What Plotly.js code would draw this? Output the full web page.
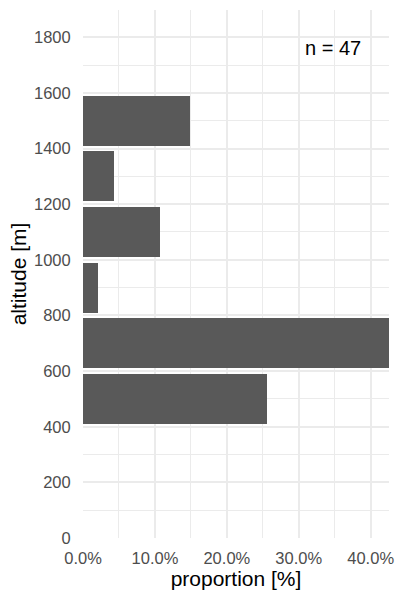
<!DOCTYPE html>
<html>
<head>
<meta charset="utf-8">
<script src="https://cdn.plot.ly/plotly-3.0.1.min.js"></script>
<style>html,body{margin:0;padding:0;background:#fff;}#chart{width:400px;height:600px;}</style>
</head>
<body>
<div id="chart"></div>
<script>
// altitude bin centres [m]
var altitudeBins = [500, 700, 900, 1100, 1300, 1500];
// proportion of observations per bin (n = 47)
var proportions = [0.2553, 0.4255, 0.0213, 0.1064, 0.0426, 0.1489];
var xTickVals = [0, 0.1, 0.2, 0.3, 0.4];
var xTickText = ["0.0%", "10.0%", "20.0%", "30.0%", "40.0%"];
var yTickVals = [0, 200, 400, 600, 800, 1000, 1200, 1400, 1600, 1800];
var annotationText = "n = 47";

var trace = {
  type: 'bar',
  orientation: 'h',
  x: proportions,
  y: altitudeBins,
  width: 180,
  marker: {color: '#595959', line: {width: 0}},
  hoverinfo: 'none'
};

var gridCol = '#EBEBEB';
var layout = {
  width: 400, height: 600,
  margin: {l: 83, r: 11, t: 10, b: 62},
  paper_bgcolor: '#fff', plot_bgcolor: '#fff',
  font: {family: '"Liberation Sans", Arial, sans-serif', color: '#4D4D4D', size: 16.5},
  showlegend: false,
  bargap: 0,
  xaxis: {
    range: [0, 0.4255],
    tickvals: xTickVals, ticktext: xTickText,
    showgrid: true, gridcolor: gridCol, gridwidth: 2,
    minor: {dtick: 0.05, tick0: 0, showgrid: true, gridcolor: gridCol, gridwidth: 1},
    zeroline: false, showline: false,
    ticks: 'outside', ticklen: 5, tickcolor: 'rgba(0,0,0,0)',
    tickfont: {size: 16.5, color: '#4D4D4D'},
    title: {text: 'proportion [%]', font: {size: 21, color: '#000'}, standoff: 1}
  },
  yaxis: {
    range: [0, 1898],
    tickvals: yTickVals,
    showgrid: true, gridcolor: gridCol, gridwidth: 2,
    minor: {dtick: 100, tick0: 0, showgrid: true, gridcolor: gridCol, gridwidth: 1},
    zeroline: false, showline: false,
    ticks: 'outside', ticklen: 8, tickcolor: 'rgba(0,0,0,0)',
    tickfont: {size: 16.5, color: '#4D4D4D'},
    title: {text: 'altitude [m]', font: {size: 21, color: '#000'}, standoff: 1}
  },
  annotations: [{
    x: 0.347, y: 1762, xref: 'x', yref: 'y',
    text: annotationText, showarrow: false,
    font: {size: 20, color: '#000'},
    xanchor: 'center', yanchor: 'middle'
  }]
};

Plotly.newPlot('chart', [trace], layout, {staticPlot: true, displayModeBar: false});
</script>
</body>
</html>
